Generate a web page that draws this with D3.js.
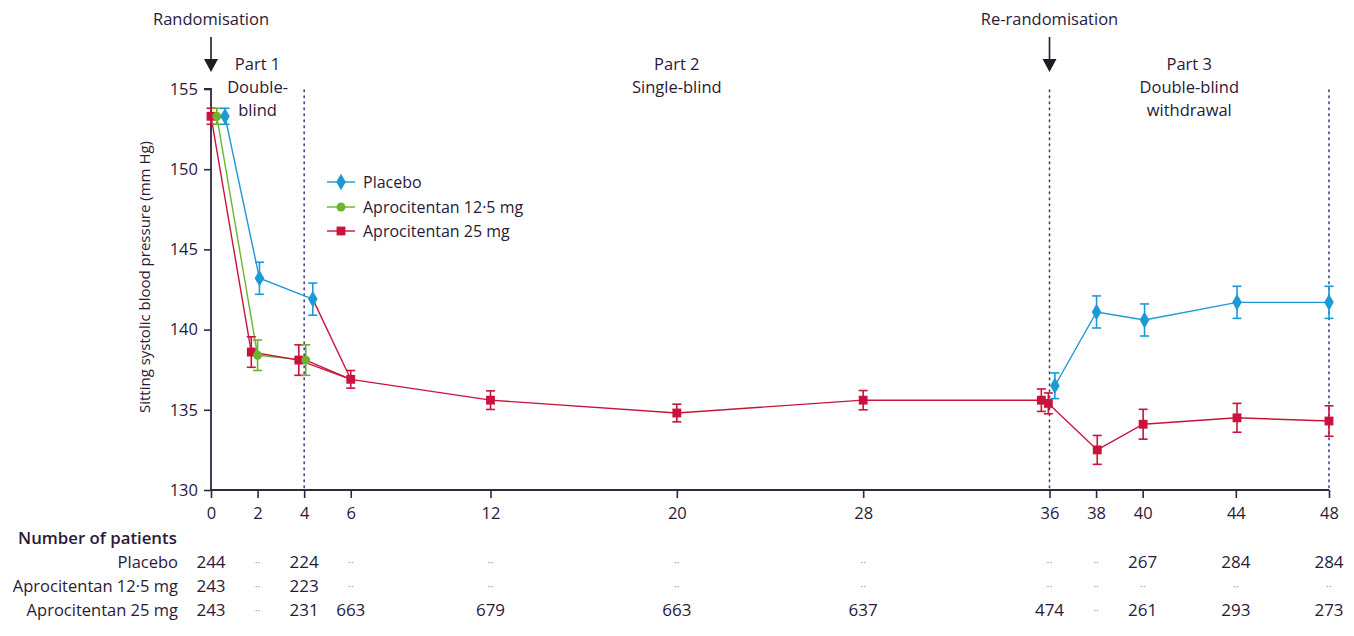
<!DOCTYPE html>
<html><head><meta charset="utf-8">
<script src="https://cdn.jsdelivr.net/npm/d3@7"></script>
<style>
body{margin:0;background:#fff;}
svg text{font-family:"Open Sans","Noto Sans",sans-serif;fill:#2a1a38;}
</style></head>
<body><svg id="c" width="1354" height="636"></svg>
<script>
// ---- data ----
const xTicks = [0,2,4,6,12,20,28,36,38,40,44,48];
const yTicks = [130,135,140,145,150,155];
const seriesNames = ["Placebo","Aprocitentan 12·5 mg","Aprocitentan 25 mg"];

const placeboP1Weeks = [0,2,4];
const placeboP1Dodge = [0.6,0.08,0.37];
const placeboP1Mean = [153.3,143.2,141.9];
const placeboP1SE = [0.5,1.0,1.0];

const apro12P1Weeks = [0,2,4];
const apro12P1Dodge = [0.25,0,0.07];
const apro12P1Mean = [153.3,138.4,138.1];
const apro12P1SE = [0.5,0.95,0.95];

const apro25P1Weeks = [0,2,4];
const apro25P1Dodge = [0,-0.27,-0.23];
const apro25P1Mean = [153.3,138.6,138.1];
const apro25P1SE = [0.5,0.95,0.95];

const apro25P2Weeks = [6,12,20,28,36];
const apro25P2Dodge = [0,0,0,0,-0.35];
const apro25P2Mean = [136.9,135.6,134.8,135.6,135.6];
const apro25P2SE = [0.55,0.58,0.55,0.6,0.7];

const placeboP3Weeks = [36,38,40,44,48];
const placeboP3Dodge = [0.23,0.02,0.08,0.05,0];
const placeboP3Mean = [136.5,141.1,140.6,141.7,141.7];
const placeboP3SE = [0.8,1.0,1.0,1.0,1.0];

const apro25P3Weeks = [36,38,40,44,48];
const apro25P3Dodge = [-0.05,0.05,0.02,0.05,0];
const apro25P3Mean = [135.4,132.5,134.1,134.5,134.3];
const apro25P3SE = [0.65,0.9,0.93,0.9,0.95];

const nPlacebo = ["244","··","224","··","··","··","··","··","··","267","284","284"];
const nApro12 = ["243","··","223","··","··","··","··","··","··","··","··","··"];
const nApro25 = ["243","··","231","663","679","663","637","474","··","261","293","273"];

// ---- drawing ----
const colors = {pl:"#1c9ad6", a12:"#6cb42e", a25:"#c8143c"};
const axisCol = "#35253f";
const svg = d3.select("#c");
const x = d3.scaleLinear().domain([0,48]).range([211,1329]);
const y = d3.scaleLinear().domain([130,155]).range([490,89]);

function pts(w,d,m,s){return w.map((v,i)=>({x:v+d[i],m:m[i],s:s[i]}));}
const pl1 = pts(placeboP1Weeks,placeboP1Dodge,placeboP1Mean,placeboP1SE);
const a121 = pts(apro12P1Weeks,apro12P1Dodge,apro12P1Mean,apro12P1SE);
const a251 = pts(apro25P1Weeks,apro25P1Dodge,apro25P1Mean,apro25P1SE);
const a252 = pts(apro25P2Weeks,apro25P2Dodge,apro25P2Mean,apro25P2SE);
const pl3 = pts(placeboP3Weeks,placeboP3Dodge,placeboP3Mean,placeboP3SE);
const a253 = pts(apro25P3Weeks,apro25P3Dodge,apro25P3Mean,apro25P3SE);

// dotted verticals
[4,36,48].forEach(w=>{
  svg.append("line").attr("x1",x(w)).attr("x2",x(w)).attr("y1",90).attr("y2",490)
    .attr("stroke","#3c3f86").attr("stroke-width",1.6).attr("stroke-dasharray","1.6,4.4").attr("stroke-linecap","round");
});

// axes
const yAxis = svg.append("g").attr("transform",`translate(${x(0)},0)`)
  .call(d3.axisLeft(y).tickValues(yTicks).tickSize(7).tickPadding(6));
const xAxis = svg.append("g").attr("transform",`translate(0,${y(130)})`)
  .call(d3.axisBottom(x).tickValues(xTicks).tickSize(8).tickPadding(9));
[yAxis,xAxis].forEach(g=>{
  g.select(".domain").attr("stroke",axisCol).attr("stroke-width",1.8);
  g.selectAll(".tick line").attr("stroke",axisCol).attr("stroke-width",1.6);
  g.selectAll(".tick text").attr("fill","#2a1a38").style("font-size","16.5px").style("font-family","'Open Sans',sans-serif");
});
yAxis.select(".domain").attr("d",`M-7,${y(155)}H0V${y(130)}`);
xAxis.select(".domain").attr("d",`M${x(0)},0H${x(48)}`);

svg.append("text").attr("transform",`translate(150,277) rotate(-90)`)
  .attr("text-anchor","middle").style("font-size","15px").text("Sitting systolic blood pressure (mm Hg)");

const line = d3.line().x(d=>x(d.x)).y(d=>y(d.m));
function path(data,col){svg.append("path").datum(data).attr("d",line).attr("fill","none").attr("stroke",col).attr("stroke-width",1.4);}
// part 1
path(pl1,colors.pl); path(a121,colors.a12); path(a251,colors.a25);
// transitions to part 2
[pl1[2],a121[2],a251[2]].forEach(p=>path([p,a252[0]],colors.a25));
path(a252,colors.a25);
path([a252[4],a253[0]],colors.a25);
path(pl3,colors.pl); path(a253,colors.a25);

function errs(data,col){
  const g=svg.append("g").attr("stroke",col).attr("stroke-width",1.6);
  data.forEach(d=>{
    const cx=x(d.x);
    g.append("line").attr("x1",cx).attr("x2",cx).attr("y1",y(d.m-d.s)).attr("y2",y(d.m+d.s));
    [d.m-d.s,d.m+d.s].forEach(v=>g.append("line").attr("x1",cx-4.5).attr("x2",cx+4.5).attr("y1",y(v)).attr("y2",y(v)));
  });
}
const sym = {
  pl: d3.symbol().type(d3.symbolDiamond).size(80),
  a12: d3.symbol().type(d3.symbolCircle).size(62),
  a25: d3.symbol().type(d3.symbolSquare2).size(100)
};
function marks(data,key){
  errs(data,colors[key]);
  svg.append("g").selectAll("path").data(data).join("path")
    .attr("transform",d=>`translate(${x(d.x)},${y(d.m)})`)
    .attr("d",sym[key]).attr("fill",colors[key]);
}
marks(a251,"a25"); marks(a121,"a12"); marks(pl1,"pl");
marks(a252,"a25");
marks(a253,"a25"); marks(pl3,"pl");

// legend
const legY=[182,207,231], legKeys=["pl","a12","a25"];
legKeys.forEach((k,i)=>{
  svg.append("line").attr("x1",327).attr("x2",355).attr("y1",legY[i]).attr("y2",legY[i]).attr("stroke",colors[k]).attr("stroke-width",1.4);
  svg.append("path").attr("transform",`translate(341,${legY[i]})`).attr("d",sym[k]).attr("fill",colors[k]);
  svg.append("text").attr("x",363).attr("y",legY[i]).attr("dy","0.35em").style("font-size","16px").text(seriesNames[i]);
});

// annotations
function txt(t,xx,yy,anchor="middle",size=16.5,weight=400){
  return svg.append("text").attr("x",xx).attr("y",yy).attr("dy","0.35em").attr("text-anchor",anchor)
    .style("font-size",size+"px").style("font-weight",weight).text(t);
}
function arrow(w){
  const ax=x(w);
  svg.append("line").attr("x1",ax).attr("x2",ax).attr("y1",37).attr("y2",62).attr("stroke","#231a26").attr("stroke-width",1.6);
  svg.append("path").attr("d",`M${ax-7},59L${ax+7},59L${ax},72Z`).attr("fill","#231a26");
}
txt("Randomisation",x(0),19); arrow(0);
txt("Re-randomisation",x(36),19); arrow(36);
txt("Part 1",x(2),64); txt("Double-",x(2),87); txt("blind",x(2),110);
txt("Part 2",x(20),64); txt("Single-blind",x(20),87);
txt("Part 3",(x(40)+x(44))/2,64); txt("Double-blind",(x(40)+x(44))/2,87); txt("withdrawal",(x(40)+x(44))/2,110);

// patients table
txt("Number of patients",18,538,"start",16.8,600);
const rows=[nPlacebo,nApro12,nApro25], rowY=[562,586,610];
rows.forEach((r,i)=>{
  txt(seriesNames[i],178,rowY[i],"end",16.5);
  r.forEach((v,j)=>{
    const t=txt(v,x(xTicks[j]),rowY[i],"middle",v==="··"?11:17);
    if(v==="··") t.style("fill","#9a92a0");
  });
});
</script></body></html>
